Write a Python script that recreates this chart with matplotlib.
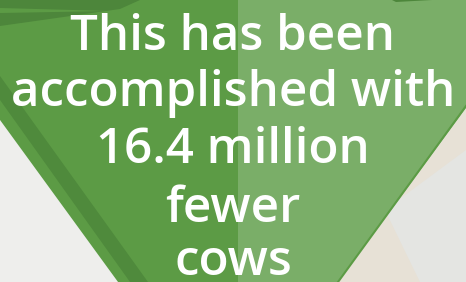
import matplotlib
matplotlib.use("Agg")
import matplotlib.pyplot as plt

# text lines of the funnel message
lines = ["This has been", "accomplished with", "16.4 million", "fewer", "cows"]
baselines = [50, 106, 163, 222, 275]

# background shapes (pixel space, y down)
white_left = [(0, 120), (0, 282), (118, 282)]
beige_right = [(466, 108), (466, 282), (338, 282)]
green_left = [(0, 0), (238, 0), (238, 282), (118, 282), (0, 120)]
green_right = [(238, 0), (466, 0), (466, 108), (338, 282), (238, 282)]
dark_stripe = [(0, 76), (0, 100), (130, 282), (148, 282)]
dark_top = [(0, 0), (140, 0), (120, 9), (0, 26)]
light_top = [(0, 8), (110, 11), (0, 13)]
dark_sliver = [(392, 0), (432, 0), (396, 2)]
grey_band = [(466, 150), (466, 282), (420, 282), (385, 210)]

fig = plt.figure(figsize=(4.66, 2.82), dpi=100)
ax = fig.add_axes([0, 0, 1, 1])
ax.set_xlim(0, 466)
ax.set_ylim(282, 0)
ax.axis("off")


def poly(pts, color, z=1):
    xs = [p[0] for p in pts]
    ys = [p[1] for p in pts]
    ax.fill(xs, ys, color=color, lw=0, zorder=z)


poly(white_left, "#eeeeec")
poly(beige_right, "#e7e1d6")
poly(grey_band, "#e4e5e2", 1.5)
poly(green_left, "#5c9b45", 2)
poly(green_right, "#7aae68", 2)
poly(dark_stripe, "#4f8a3c", 3)
poly(dark_top, "#4d863b", 3)
poly(light_top, "#5c9b45", 3.5)
poly(dark_sliver, "#4d863b", 3)
ax.plot([466, 338], [106, 282], color="#5c9b45", lw=1.5, zorder=3)

for txt, y in zip(lines, baselines):
    ax.text(233, y, txt, ha="center", va="baseline", color="white",
            fontsize=35.5, family="Open Sans", weight="semibold", zorder=5)

fig.savefig("out.png", dpi=100)
